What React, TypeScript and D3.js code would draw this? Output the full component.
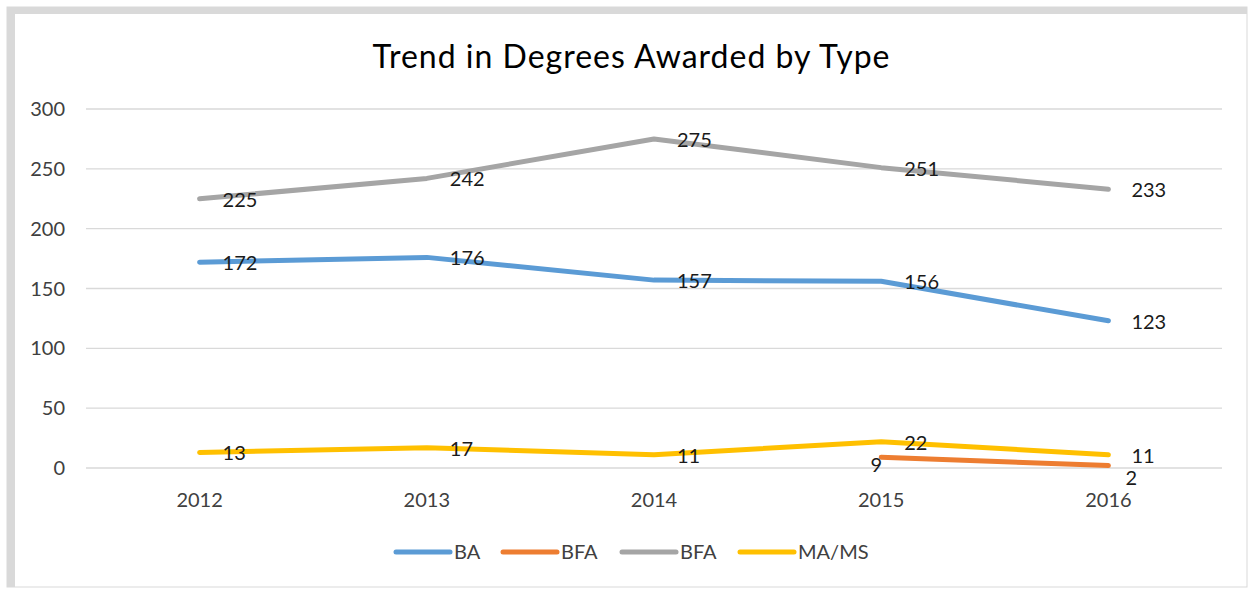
import React from 'react';
import * as d3 from 'd3';

// chart data
const years = ['2012', '2013', '2014', '2015', '2016'];
const baValues = [172, 176, 157, 156, 123];
const bfaValues = [null, null, null, 9, 2];
const bfaGrayValues = [225, 242, 275, 251, 233];
const maValues = [13, 17, 11, 22, 11];
const yTicks = [0, 50, 100, 150, 200, 250, 300];
const seriesNames = ['BA', 'BFA', 'BFA', 'MA/MS'];
const seriesColors = ['#5b9bd5', '#ed7d31', '#a5a5a5', '#ffc000'];
// where each data label sits relative to its point
const bfaLabelPos = ['right', 'right', 'right', 'left', 'below'];

const W = 1248;
const H = 589;
const FONT = 'Lato, "Open Sans", sans-serif';

type Pos = 'right' | 'left' | 'below';

function App() {
  const x = d3.scalePoint<string>().domain(years).range([86, 1222]).padding(0.5);
  const y = d3.scaleLinear().domain([0, 300]).range([468, 109]);

  const series = [
    { values: baValues, pos: years.map(() => 'right') },
    { values: bfaValues, pos: bfaLabelPos },
    { values: bfaGrayValues, pos: years.map(() => 'right') },
    { values: maValues, pos: years.map(() => 'right') },
  ];

  const line = d3
    .line<number | null>()
    .defined((d) => d != null)
    .x((_, i) => x(years[i]) as number)
    .y((d) => y(d as number));

  const legendX = [396, 503, 622, 740];

  return (
    <svg width={W} height={H} style={{ position: 'absolute', left: 0, top: 0 }}>
      <rect x={0} y={0} width={W} height={H} fill="#fff" />
      {/* frame */}
      <rect x={7} y={7} width={1240} height={580} fill="none" stroke="#d9d9d9" strokeWidth={1} />
      <rect x={7} y={7} width={8} height={580} fill="#d9d9d9" />
      <rect x={7} y={7} width={1240} height={7} fill="#d9d9d9" />

      <text x={631} y={68} textAnchor="middle" fontFamily={FONT} fontSize={32}
        textLength={517} lengthAdjust="spacing" fill="#000">
        Trend in Degrees Awarded by Type
      </text>

      {yTicks.map((t) => (
        <g key={t}>
          <line x1={86} x2={1222} y1={y(t)} y2={y(t)} stroke="#d9d9d9" strokeWidth={1.3} />
          <text x={65} y={y(t)} dy="0.35em" textAnchor="end" fontFamily={FONT} fontSize={20} fill="#404040">
            {t}
          </text>
        </g>
      ))}

      {years.map((yr) => (
        <text key={yr} x={x(yr)} y={500} dy="0.35em" textAnchor="middle" fontFamily={FONT} fontSize={20} fill="#404040">
          {yr}
        </text>
      ))}

      {series.map((s, si) => (
        <path
          key={si}
          d={line(s.values) || ''}
          fill="none"
          stroke={seriesColors[si]}
          strokeWidth={5}
          strokeLinecap="round"
          strokeLinejoin="round"
        />
      ))}

      {series.map((s, si) =>
        s.values.map((v, i) => {
          if (v == null) return null;
          const px = x(years[i]) as number;
          const py = y(v);
          const pos = s.pos[i] as Pos;
          let tx = px + 23;
          let ty = py + 1;
          let anchor = 'start';
          if (pos === 'left') {
            tx = px + 1;
            ty = py + 8;
            anchor = 'end';
          } else if (pos === 'below') {
            ty = py + 12;
            anchor = 'middle';
          }
          return (
            <text
              key={si + '-' + i}
              x={tx}
              y={ty}
              dy="0.35em"
              textAnchor={anchor}
              fontFamily={FONT}
              fontSize={20}
              fill="#1a1a1a"
            >
              {v}
            </text>
          );
        })
      )}

      {seriesNames.map((name, i) => (
        <g key={i}>
          <line
            x1={legendX[i]}
            x2={legendX[i] + 54}
            y1={552}
            y2={552}
            stroke={seriesColors[i]}
            strokeWidth={5}
            strokeLinecap="round"
          />
          <text x={legendX[i] + 58} y={552} dy="0.35em" fontFamily={FONT} fontSize={20} fill="#404040">
            {name}
          </text>
        </g>
      ))}
    </svg>
  );
}

export default App;
